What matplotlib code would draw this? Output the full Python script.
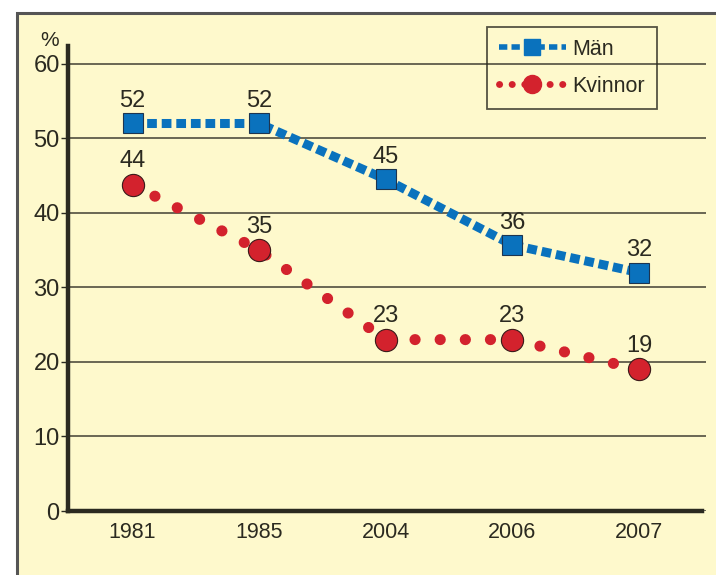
import matplotlib
matplotlib.use("Agg")
from matplotlib import pyplot as plt
from matplotlib.lines import Line2D
from matplotlib.patches import Rectangle

years = ["1981", "1985", "2004", "2006", "2007"]
man = [52, 52, 44.5, 35.7, 32]
kvinnor = [43.8, 35, 23, 23, 19]
man_labels = ["52", "52", "45", "36", "32"]
kvinnor_labels = ["44", "35", "23", "23", "19"]

plt.rcParams["font.family"] = ["Liberation Sans", "DejaVu Sans"]
plt.rcParams["lines.scale_dashes"] = False

bg = "#fef9cc"
blue = "#0a72bd"
red = "#d3222d"
dark = "#2b2a20"

fig = plt.figure(figsize=(7.16, 5.75), dpi=100, facecolor="white")
fig.patches.append(Rectangle((16.5 / 716, -0.2), 1.2, (575 - 13) / 575 + 0.2,
                             transform=fig.transFigure, facecolor=bg,
                             edgecolor="#555555", linewidth=2.2, zorder=-10))

ax = fig.add_axes([68 / 716, 64 / 575, (706 - 68) / 716, (511 - 46) / 575])
ax.set_facecolor("none")
x = list(range(len(years)))

ax.plot(x, man, color=blue, linewidth=6.5, dashes=(7, 3.5), zorder=3,
        marker="s", markersize=14, markerfacecolor=blue,
        markeredgecolor="#1d3550", markeredgewidth=0.8)
ax.plot(x, kvinnor, color=red, linewidth=8, linestyle=(0, (0.1, 18)),
        dash_capstyle="round", zorder=3,
        marker="o", markersize=16, markerfacecolor=red,
        markeredgecolor="#3a1a1a", markeredgewidth=0.8)

for i in x:
    ax.annotate(man_labels[i], (i, man[i]), xytext=(0, 16), textcoords="offset points",
                ha="center", va="center", fontsize=17, color=dark, zorder=5)
    ax.annotate(kvinnor_labels[i], (i, kvinnor[i]), xytext=(0, 17), textcoords="offset points",
                ha="center", va="center", fontsize=17, color=dark, zorder=5)

ax.set_xlim(-0.51, 4.53)
ax.set_ylim(0, 62.4)
ax.set_yticks(range(0, 61, 10))
ax.set_xticks(x)
ax.set_xticklabels(years)
ax.tick_params(axis="y", length=5, width=1, color=dark, labelsize=17, labelcolor=dark, pad=1)
ax.tick_params(axis="x", length=0, labelsize=15.5, labelcolor=dark, pad=8)
ax.yaxis.grid(True, color="#5e5b4a", linewidth=1.3)
ax.set_axisbelow(True)
for s in ["top", "right"]:
    ax.spines[s].set_visible(False)
for s in ["left", "bottom"]:
    ax.spines[s].set_linewidth(3.2)
    ax.spines[s].set_color(dark)
ax.spines["bottom"].set_bounds(-0.51, 4.5)

fig.text(50 / 716, (575 - 40) / 575, "%", ha="center", va="center", fontsize=15, color=dark)

handles = [
    Line2D([], [], color=blue, linewidth=4, dashes=(6, 3), marker="s", markersize=11,
           markerfacecolor=blue, markeredgecolor=blue),
    Line2D([], [], color=red, linewidth=5, linestyle=(0, (0.1, 9)), dash_capstyle="round",
           marker="o", markersize=13, markerfacecolor=red, markeredgecolor=red),
]
leg = fig.legend(handles, ["Män", "Kvinnor"], loc="upper left",
                 bbox_to_anchor=(487 / 716, (575 - 27) / 575), fontsize=15.5,
                 handlelength=3.1, handletextpad=0.3, labelspacing=0.75,
                 borderpad=0.55, borderaxespad=0, fancybox=False, frameon=True)
leg.get_frame().set_facecolor("none")
leg.get_frame().set_edgecolor(dark)
leg.get_frame().set_linewidth(1.3)
for t in leg.get_texts():
    t.set_color(dark)

fig.savefig("out.png", dpi=100, facecolor="white")
